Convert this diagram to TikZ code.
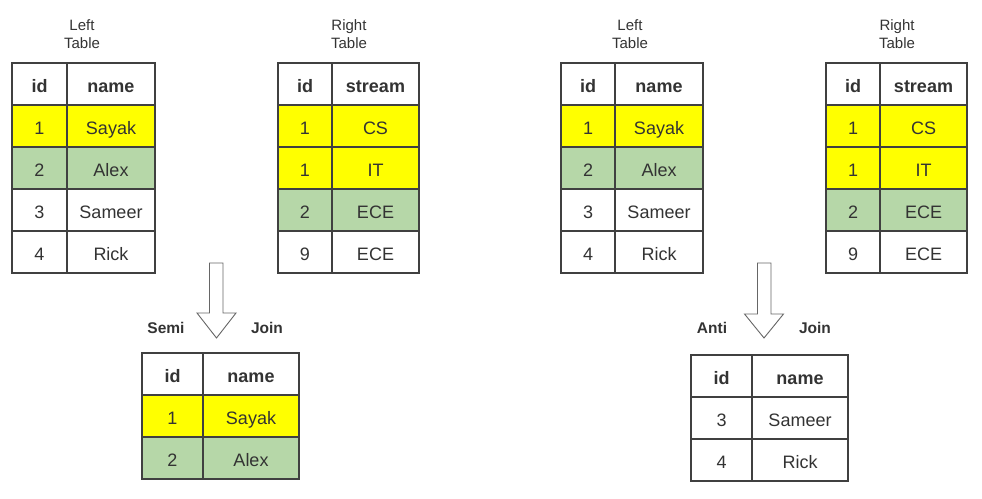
\documentclass[tikz,border=0pt]{standalone}
\usepackage{fontspec}
\setmainfont{Liberation Sans}
\definecolor{txt}{HTML}{333333}
\definecolor{bord}{HTML}{404040}
\definecolor{grn}{HTML}{B6D7A8}
\definecolor{ylw}{HTML}{FFFF00}
\begin{document}
\begin{tikzpicture}[x=1pt,y=-1pt,
  cell/.style={draw=bord, line width=1.3pt, minimum height=42pt, inner sep=0pt, text=txt,
    text height=19.5pt, text depth=3pt,
    font=\fontsize{18}{20}\selectfont, fill=white},
  hd/.style={cell, font=\fontsize{18}{20}\selectfont\bfseries},
  ca/.style={minimum width=55pt},
  cb/.style={minimum width=88pt},
  cra/.style={minimum width=61pt},
  crb/.style={minimum width=96pt},
  yl/.style={fill=ylw},
  gr/.style={fill=grn},
  ttl/.style={align=center, text=txt, font=\fontsize{15}{18}\selectfont, inner sep=0pt},
  jl/.style={text=txt, font=\fontsize{15.5}{18}\selectfont\bfseries, inner sep=0pt},
  bigarrow/.style={draw=bord!80, line width=0.9pt, fill=white}
]
\useasboundingbox (0,0) rectangle (982,498);
% ---------- left half ----------
\node[ttl] (tL) at (82,34) {Left\\Table};
\node[ttl] (tR) at (349,34) {Right\\Table};
% left table
\node[hd,ca] (La0) at (39.5,84) {id};   \node[hd,cb] (Lb0) at (111,84) {name};
\node[cell,ca,yl] (La1) at (39.5,126) {1}; \node[cell,cb,yl] (Lb1) at (111,126) {Sayak};
\node[cell,ca,gr] (La2) at (39.5,168) {2}; \node[cell,cb,gr] (Lb2) at (111,168) {Alex};
\node[cell,ca] (La3) at (39.5,210) {3}; \node[cell,cb] (Lb3) at (111,210) {Sameer};
\node[cell,ca] (La4) at (39.5,252) {4}; \node[cell,cb] (Lb4) at (111,252) {Rick};
% right table
\node[hd,ca,minimum width=54pt] (Ra0) at (305,84) {id};   \node[hd,cb,minimum width=87pt] (Rb0) at (375.5,84) {stream};
\node[cell,ca,yl,minimum width=54pt] (Ra1) at (305,126) {1}; \node[cell,cb,yl,minimum width=87pt] (Rb1) at (375.5,126) {CS};
\node[cell,ca,yl,minimum width=54pt] (Ra2) at (305,168) {1}; \node[cell,cb,yl,minimum width=87pt] (Rb2) at (375.5,168) {IT};
\node[cell,ca,gr,minimum width=54pt] (Ra3) at (305,210) {2}; \node[cell,cb,gr,minimum width=87pt] (Rb3) at (375.5,210) {ECE};
\node[cell,ca,minimum width=54pt] (Ra4) at (305,252) {9}; \node[cell,cb,minimum width=87pt] (Rb4) at (375.5,252) {ECE};
% arrow
\draw[bigarrow] (209.5,263) -- (223,263) -- (223,313) -- (236,313) -- (216.5,338) -- (197,313) -- (209.5,313) -- cycle;
\node[jl] (semi) at (166,328) {Semi};
\node[jl] (join1) at (267,328) {Join};
% result
\node[hd,cra] (Sa0) at (172.5,374) {id};   \node[hd,crb] (Sb0) at (251,374) {name};
\node[cell,cra,yl] (Sa1) at (172.5,416) {1}; \node[cell,crb,yl] (Sb1) at (251,416) {Sayak};
\node[cell,cra,gr] (Sa2) at (172.5,458) {2}; \node[cell,crb,gr] (Sb2) at (251,458) {Alex};
% ---------- right half ----------
\node[ttl] (tL2) at (630,34) {Left\\Table};
\node[ttl] (tR2) at (897,34) {Right\\Table};
\node[hd,ca,minimum width=54pt] (Ma0) at (588,84) {id};   \node[hd,cb] (Mb0) at (659,84) {name};
\node[cell,ca,yl,minimum width=54pt] (Ma1) at (588,126) {1}; \node[cell,cb,yl] (Mb1) at (659,126) {Sayak};
\node[cell,ca,gr,minimum width=54pt] (Ma2) at (588,168) {2}; \node[cell,cb,gr] (Mb2) at (659,168) {Alex};
\node[cell,ca,minimum width=54pt] (Ma3) at (588,210) {3}; \node[cell,cb] (Mb3) at (659,210) {Sameer};
\node[cell,ca,minimum width=54pt] (Ma4) at (588,252) {4}; \node[cell,cb] (Mb4) at (659,252) {Rick};
\node[hd,ca,minimum width=54pt] (Na0) at (853,84) {id};   \node[hd,cb,minimum width=87pt] (Nb0) at (923.5,84) {stream};
\node[cell,ca,yl,minimum width=54pt] (Na1) at (853,126) {1}; \node[cell,cb,yl,minimum width=87pt] (Nb1) at (923.5,126) {CS};
\node[cell,ca,yl,minimum width=54pt] (Na2) at (853,168) {1}; \node[cell,cb,yl,minimum width=87pt] (Nb2) at (923.5,168) {IT};
\node[cell,ca,gr,minimum width=54pt] (Na3) at (853,210) {2}; \node[cell,cb,gr,minimum width=87pt] (Nb3) at (923.5,210) {ECE};
\node[cell,ca,minimum width=54pt] (Na4) at (853,252) {9}; \node[cell,cb,minimum width=87pt] (Nb4) at (923.5,252) {ECE};
\draw[bigarrow] (757.5,263) -- (771,263) -- (771,314) -- (783.5,314) -- (764,338) -- (744.5,314) -- (757.5,314) -- cycle;
\node[jl] (anti) at (712,328) {Anti};
\node[jl] (join2) at (815,328) {Join};
\node[hd,cra] (Aa0) at (721.5,376) {id};   \node[hd,crb] (Ab0) at (800,376) {name};
\node[cell,cra] (Aa1) at (721.5,418) {3}; \node[cell,crb] (Ab1) at (800,418) {Sameer};
\node[cell,cra] (Aa2) at (721.5,460) {4}; \node[cell,crb] (Ab2) at (800,460) {Rick};
\end{tikzpicture}
\end{document}
